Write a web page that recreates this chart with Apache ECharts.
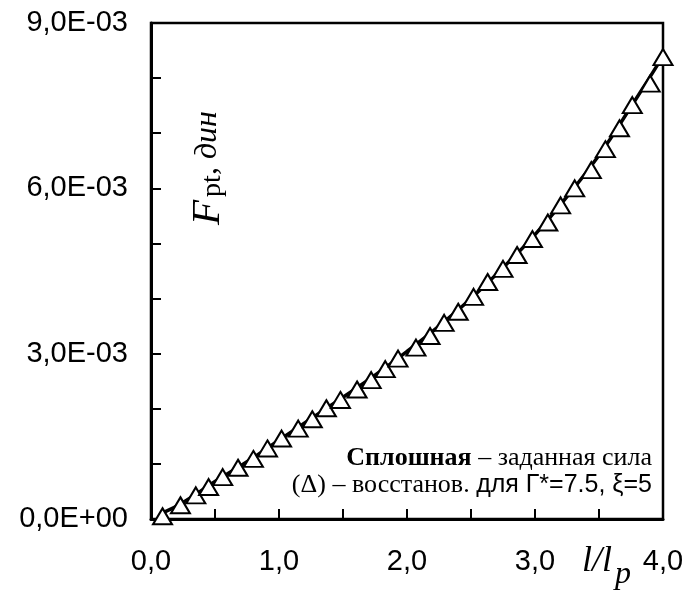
<!DOCTYPE html>
<html>
<head>
<meta charset="utf-8">
<script src="https://cdn.jsdelivr.net/npm/echarts@6/dist/echarts.min.js"></script>
<style>
  html, body { margin: 0; padding: 0; background: #fff; }
  #chart { width: 700px; height: 590px; }
</style>
</head>
<body>
<div id="chart"></div>
<script>
// l/l_p for the recovered points (triangles)
var recX = [0.09, 0.23, 0.35, 0.45, 0.56, 0.68, 0.80, 0.91, 1.02, 1.15,
  1.26, 1.37, 1.48, 1.61, 1.72, 1.83, 1.93, 2.07, 2.18, 2.29,
  2.40, 2.52, 2.63, 2.75, 2.86, 2.98, 3.10, 3.20, 3.31, 3.44,
  3.55, 3.66, 3.76, 3.90, 4.00];
// F_pt in units of 1E-03 dyn
var recF = [0.05, 0.25, 0.43, 0.58, 0.76, 0.93, 1.09, 1.28, 1.46, 1.64,
  1.81, 2.01, 2.16, 2.35, 2.52, 2.72, 2.91, 3.11, 3.32, 3.56,
  3.76, 4.03, 4.30, 4.54, 4.79, 5.08, 5.38, 5.69, 6.00, 6.33,
  6.71, 7.09, 7.51, 7.90, 8.38];
// given force (solid line)
var givenX = [0.1, 0.25, 0.5, 0.75, 1.0, 1.25, 1.5, 1.75, 2.0, 2.25, 2.5, 2.75, 3.0, 3.25, 3.5, 3.75, 4.0];
var givenF = [0.12, 0.30, 0.68, 1.04, 1.43, 1.82, 2.21, 2.61, 3.04, 3.50, 4.00, 4.56, 5.16, 5.85, 6.60, 7.48, 8.40];

var xTicks = [0, 1, 2, 3, 4];
var yTicks = [0, 3, 6, 9];

var chart = echarts.init(document.getElementById('chart'));

var lineData = givenX.map(function (x, i) { return [x, givenF[i]]; });
var recData = recX.map(function (x, i) { return [x, recF[i]]; });

var serif = 'Liberation Serif';
var sans = 'Liberation Sans';

var option = {
  animation: false,
  grid: {
    left: 151, right: 37, top: 23, bottom: 71,
    show: true, borderColor: '#000', borderWidth: 2.5
  },
  xAxis: {
    type: 'value',
    min: xTicks[0], max: xTicks[xTicks.length - 1], interval: 1,
    axisLine: { lineStyle: { color: '#000', width: 3 } },
    axisTick: { inside: true, length: 10, lineStyle: { color: '#000', width: 2 } },
    minorTick: { show: true, splitNumber: 2, length: 10, lineStyle: { color: '#000', width: 2 } },
    splitLine: { show: false },
    axisLabel: {
      margin: 28, color: '#000', fontFamily: sans, fontSize: 29,
      formatter: function (v) { return v.toFixed(1).replace('.', ','); }
    }
  },
  yAxis: {
    type: 'value',
    min: yTicks[0], max: yTicks[yTicks.length - 1], interval: 3,
    axisLine: { lineStyle: { color: '#000', width: 3 } },
    axisTick: { inside: true, length: 10, lineStyle: { color: '#000', width: 2 } },
    minorTick: { show: true, splitNumber: 3, length: 10, lineStyle: { color: '#000', width: 2 } },
    splitLine: { show: false },
    axisLabel: {
      margin: 23, color: '#000', fontFamily: sans, fontSize: 29,
      formatter: function (v) {
        if (v === 0) return '0,0E+00';
        return v.toFixed(1).replace('.', ',') + 'E-03';
      }
    }
  },
  series: [
    {
      name: 'заданная сила',
      type: 'line',
      data: lineData,
      smooth: true,
      symbol: 'none',
      lineStyle: { color: '#000', width: 3.5 },
      z: 2
    },
    {
      name: 'восстанов.',
      type: 'scatter',
      data: recData,
      symbol: 'triangle',
      symbolSize: [19, 16],
      itemStyle: { color: '#fff', opacity: 1, borderColor: '#000', borderWidth: 2 },
      z: 3
    }
  ],
  graphic: [
    {
      type: 'text',
      x: 208, y: 168,
      rotation: Math.PI / 2,
      style: {
        text: '{f|F}{s|pt}{c|, }{d|дин}',
        align: 'center',
        verticalAlign: 'middle',
        rich: {
          f: { fontFamily: serif, fontStyle: 'italic', fontSize: 41, fill: '#000' },
          s: { fontFamily: serif, fontSize: 28, fill: '#000', padding: [10, 0, 0, 3] },
          c: { fontFamily: serif, fontSize: 32, fill: '#000' },
          d: { fontFamily: serif, fontStyle: 'italic', fontSize: 32, fill: '#000' }
        }
      }
    },
    {
      type: 'text',
      x: 582, y: 562,
      style: {
        text: 'l/l', fontFamily: serif, fontStyle: 'italic', fontSize: 36,
        fill: '#000', align: 'left', verticalAlign: 'middle'
      }
    },
    {
      type: 'text',
      x: 615, y: 575,
      style: {
        text: 'p', fontFamily: serif, fontStyle: 'italic', fontSize: 32,
        fill: '#000', align: 'left', verticalAlign: 'middle'
      }
    },
    {
      type: 'text',
      x: 652, y: 458,
      style: {
        text: '{b|Сплошная}{r| – заданная сила}',
        align: 'right', verticalAlign: 'middle',
        rich: {
          b: { fontFamily: serif, fontWeight: 'bold', fontSize: 26, fill: '#000' },
          r: { fontFamily: serif, fontSize: 26, fill: '#000' }
        }
      }
    },
    {
      type: 'text',
      x: 652, y: 485,
      style: {
        text: '{r|(Δ) – восстанов. }{a|для Г*=7.5, ξ=5}',
        align: 'right', verticalAlign: 'middle',
        rich: {
          r: { fontFamily: serif, fontSize: 26, fill: '#000' },
          a: { fontFamily: sans, fontSize: 25, fill: '#000' }
        }
      }
    }
  ]
};

chart.setOption(option);
</script>
</body>
</html>
